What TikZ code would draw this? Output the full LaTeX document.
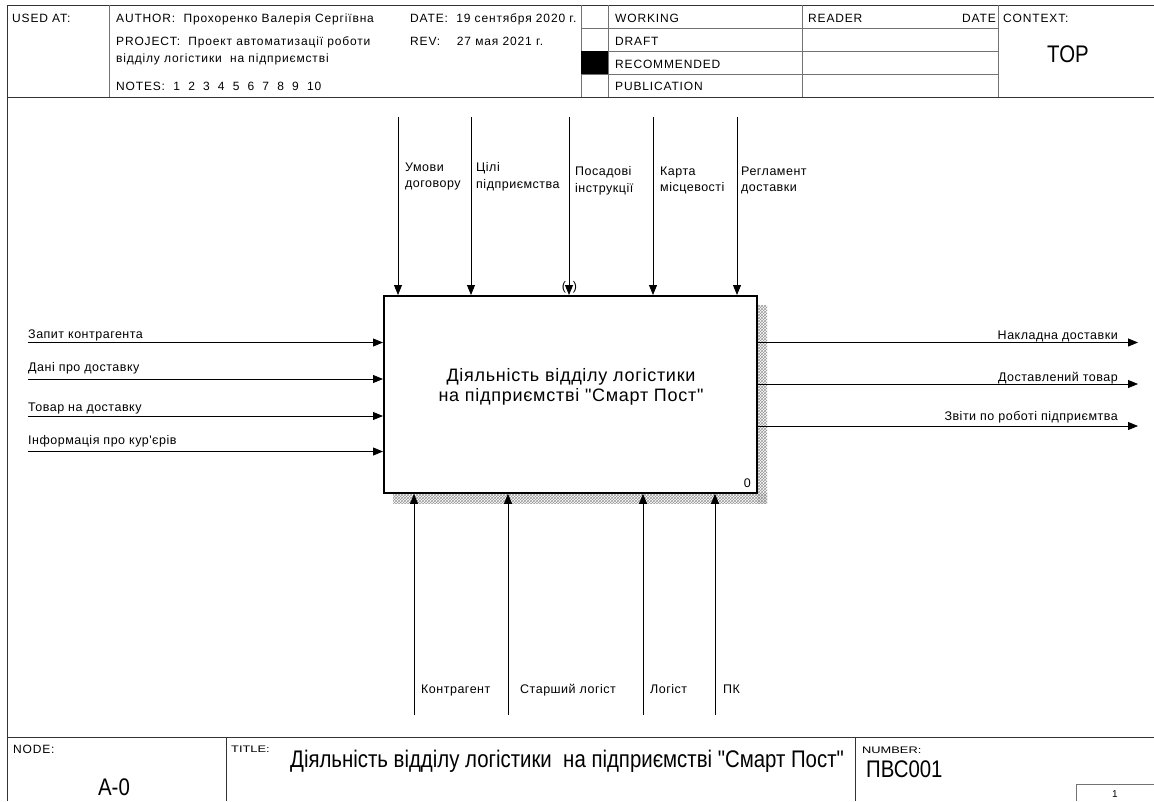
\documentclass[tikz,border=0pt]{standalone}
\usepackage{fontspec}
\setmainfont{Liberation Sans}
\newfontfamily\hdrfont[LetterSpace=7]{Liberation Sans}
\newfontfamily\lblfont[LetterSpace=4]{Liberation Sans}
\newfontfamily\narrowfont[FakeStretch=0.85]{Liberation Sans}
\newfontfamily\widefont[FakeStretch=1.35]{Liberation Sans}
\usetikzlibrary{arrows.meta, patterns, positioning}

\tikzset{
    rule/.style={black!80, line width=1pt},
    thinrule/.style={black!55, line width=1pt},
    flow/.style={line width=0.8pt, -{Triangle[length=10pt, width=8pt]}},
    hdr/.style={anchor=base west, inner sep=0pt, font=\hdrfont\fontsize{12}{14}\selectfont},
    lbl/.style={anchor=base west, inner sep=0pt, font=\lblfont\fontsize{12.5}{16.5}\selectfont},
    toplbl/.style={anchor=north west, inner sep=0pt, align=left, font=\lblfont\fontsize{12.5}{16.5}\selectfont},
    outlbl/.style={lbl, anchor=base east},
    tiny/.style={anchor=base west, inner sep=0pt, font=\widefont\fontsize{9.5}{12}\selectfont},
    big/.style={inner sep=0pt, font=\narrowfont\fontsize{24}{28}\selectfont},
}

\begin{document}
\begin{tikzpicture}[x=1pt, y=-1pt]
    \useasboundingbox (0,0) rectangle (1154,801);

    % form frame
    \draw[rule] (1154,5) -- (7,5) -- (7,801);
    \draw[rule] (7,97) -- (1154,97);
    \draw[rule] (7,737) -- (1154,737);
    \foreach \x in {109,581,608,802,998}
        \draw[thinrule] (\x,5) -- (\x,97);
    \foreach \y in {28.5,51,74}
        \draw[thinrule] (581,\y) -- (998,\y);
    \fill (581,51) rectangle (608,74);

    % header texts
    \node[hdr] (usedat) at (12,22.5) {USED AT:};
    \node[hdr] (author) at (116,22.5) {AUTHOR:\ \ Прохоренко Валерія Сергіївна};
    \node[hdr] (project) at (116,45.5) {PROJECT:\ \ Проект автоматизації роботи};
    \node[hdr] (project2) at (116,62.5) {відділу логістики\ \ на підприємстві};
    \node[hdr] (notes) at (116,90.5) {NOTES:\ \ 1\,\,\ 2\,\,\ 3\,\,\ 4\,\,\ 5\,\,\ 6\,\,\ 7\,\,\ 8\,\,\ 9\,\,\ 10};
    \node[hdr] (date) at (410,22.5) {DATE:\ \ 19 сентября 2020 г.};
    \node[hdr] (rev) at (410,45.5) {REV:\ \ \ \ 27 мая 2021 г.};
    \node[hdr] (working) at (615,22.5) {WORKING};
    \node[hdr] (draft) at (615,45.5) {DRAFT};
    \node[hdr] (recommended) at (615,68) {RECOMMENDED};
    \node[hdr] (publication) at (615,90.5) {PUBLICATION};
    \node[hdr] (reader) at (808,22.5) {READER};
    \node[hdr, anchor=base east] (readdate) at (996,22.5) {DATE};
    \node[hdr] (context) at (1003,22.5) {CONTEXT:};
    \node[big, anchor=base] (ctxtop) at (1068,62) {TOP};

    % activity box with shadow
    \fill[pattern=crosshatch, pattern color=black!40] (757,305) rectangle (767,503);
    \fill[pattern=crosshatch, pattern color=black!40] (393,493) rectangle (767,503);
    \node[draw, fill=white, line width=1.8pt, anchor=north west, inner sep=0pt,
          minimum width=373pt, minimum height=197pt] (act) at (383,295) {};
    \node[anchor=north, align=center, inner sep=0pt, font=\lblfont\fontsize{18}{20.7}\selectfont] (actname)
        at (571,368) {Діяльність відділу логістики\\на підприємстві "Смарт Пост"};
    \node[lbl, anchor=base east] (actnum) at (751,487) {0};

    % controls
    \foreach \n/\x in {c1/398, c2/471, c3/569, c4/653, c5/737} {
        \coordinate (\n) at (\x,117);
        \draw[flow] (\n) -- (\n |- act.north);
    }
    \node[toplbl] (c1txt) at (405,162.5) {Умови\\договору};
    \node[toplbl] (c2txt) at (476,162.5) {Цілі\\підприємства};
    \node[toplbl] (c3txt) at (575,166.5) {Посадові\\інструкції};
    \node[toplbl] (c4txt) at (660,166.5) {Карта\\місцевості};
    \node[toplbl] (c5txt) at (741,166.5) {Регламент\\доставки};
    \node[lbl, anchor=center] (tunl) at (564,287) {(};
    \node[lbl, anchor=center] (tunr) at (575,287) {)};

    % inputs
    \foreach \n/\y/\t/\txt in {i1/342.5/338/Запит контрагента, i2/379/371/Дані про доставку,
                             i3/416/411/Товар на доставку, i4/451.5/444/Інформація про кур'єрів} {
        \coordinate (\n) at (28,\y);
        \draw[flow] (\n) -- (\n -| act.west);
        \node[lbl] (\n txt) at (28,\t) {\txt};
    }

    % outputs
    \foreach \n/\y/\t/\txt in {o1/342.5/339/Накладна доставки, o2/384/381/Доставлений товар,
                             o3/426/420/Звіти по роботі підприємтва} {
        \coordinate (\n) at (1138,\y);
        \draw[flow] (act.east |- \n) -- (\n);
        \node[outlbl] (\n txt) at (1118,\t) {\txt};
    }

    % mechanisms
    \foreach \n/\x/\dx/\txt in {m1/414/7/Контрагент, m2/508/12/Старший логіст, m3/643/7/Логіст, m4/715/8/ПК} {
        \coordinate (\n) at (\x,715);
        \draw[flow] (\n) -- (\n |- act.south);
        \node[lbl] (\n txt) at (\x+\dx,693) {\txt};
    }

    % footer
    \draw[rule] (226,737) -- (226,801);
    \draw[rule] (855,737) -- (855,801);
    \draw[thinrule] (1076,801) -- (1076,784) -- (1154,784);
    \node[hdr] (nodelbl) at (13,753) {NODE:};
    \node[big, anchor=base] (nodeid) at (114,795) {A-0};
    \node[tiny] (titlelbl) at (231,752.5) {TITLE:};
    \node[big, anchor=base west] (titletxt) at (290,767)
        {Діяльність відділу логістики\ \ на підприємстві "Смарт Пост"};
    \node[tiny] (numlbl) at (862,753) {NUMBER:};
    \node[big, anchor=base west] (number) at (866,777.5) {ПВС001};
    \node[hdr, anchor=base, font=\fontsize{10}{12}\selectfont] (pagenum) at (1115,797) {1};
\end{tikzpicture}
\end{document}
